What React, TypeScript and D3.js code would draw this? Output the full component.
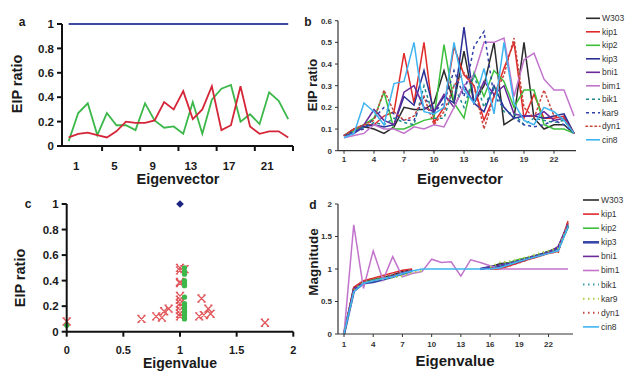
import * as d3 from "d3";

const FONT = "'Liberation Sans', Arial, sans-serif";

// shared category axis (eigenvector / eigenvalue index)
const eigIndex = [1, 2, 3, 4, 5, 6, 7, 8, 9, 10, 11, 12, 13, 14, 15, 16, 17, 18, 19, 20, 21, 22, 23, 24];

// ---- panel a ----
const aBlue = [1, 1, 1, 1, 1, 1, 1, 1, 1, 1, 1, 1, 1, 1, 1, 1, 1, 1, 1, 1, 1, 1, 1, 1];
const aGreen = [0.04, 0.27, 0.35, 0.09, 0.27, 0.17, 0.17, 0.13, 0.35, 0.21, 0.15, 0.16, 0.1, 0.36, 0.1, 0.38, 0.47, 0.5, 0.2, 0.26, 0.18, 0.44, 0.37, 0.22];
const aRed = [0.07, 0.1, 0.11, 0.09, 0.07, 0.12, 0.2, 0.19, 0.19, 0.21, 0.36, 0.3, 0.45, 0.22, 0.3, 0.49, 0.13, 0.17, 0.49, 0.16, 0.1, 0.12, 0.12, 0.07];
const aLabelTicks = [1, 5, 9, 13, 17, 21];
const aMarkTicks = [4.5, 8.5, 12.5, 16.5, 20.5, 24.5];
const ratioTicks = [0, 0.2, 0.4, 0.6, 0.8, 1];

// ---- panel b ----
const bW303 = [0.07, 0.1, 0.11, 0.1, 0.08, 0.11, 0.2, 0.19, 0.19, 0.22, 0.37, 0.22, 0.46, 0.22, 0.3, 0.5, 0.12, 0.15, 0.5, 0.15, 0.1, 0.12, 0.12, 0.08];
const bKip1 = [0.07, 0.1, 0.12, 0.12, 0.16, 0.18, 0.45, 0.22, 0.5, 0.13, 0.2, 0.48, 0.35, 0.3, 0.14, 0.25, 0.38, 0.5, 0.15, 0.26, 0.15, 0.15, 0.16, 0.08];
const bKip2 = [0.07, 0.09, 0.12, 0.15, 0.27, 0.1, 0.1, 0.12, 0.14, 0.15, 0.49, 0.22, 0.15, 0.36, 0.25, 0.37, 0.32, 0.2, 0.28, 0.28, 0.12, 0.1, 0.1, 0.08];
const bKip3 = [0.07, 0.08, 0.11, 0.12, 0.11, 0.12, 0.25, 0.21, 0.37, 0.18, 0.25, 0.22, 0.57, 0.22, 0.18, 0.3, 0.2, 0.15, 0.16, 0.16, 0.15, 0.16, 0.17, 0.08];
const bBni1 = [0.07, 0.08, 0.12, 0.19, 0.14, 0.12, 0.27, 0.3, 0.2, 0.18, 0.26, 0.2, 0.3, 0.22, 0.32, 0.26, 0.3, 0.17, 0.16, 0.16, 0.18, 0.14, 0.15, 0.08];
const bBim1 = [0.06, 0.07, 0.08, 0.12, 0.1, 0.1, 0.08, 0.11, 0.1, 0.12, 0.11, 0.2, 0.3, 0.35, 0.5, 0.5, 0.52, 0.25, 0.42, 0.45, 0.33, 0.28, 0.28, 0.16];
const bBik1 = [0.07, 0.09, 0.11, 0.13, 0.12, 0.15, 0.13, 0.12, 0.3, 0.15, 0.15, 0.3, 0.2, 0.35, 0.2, 0.3, 0.18, 0.17, 0.12, 0.15, 0.14, 0.13, 0.14, 0.08];
const bKar9 = [0.07, 0.09, 0.1, 0.15, 0.2, 0.17, 0.14, 0.14, 0.25, 0.18, 0.22, 0.37, 0.25, 0.48, 0.55, 0.25, 0.2, 0.15, 0.12, 0.11, 0.12, 0.14, 0.12, 0.08];
const bDyn1 = [0.07, 0.1, 0.12, 0.14, 0.28, 0.18, 0.14, 0.16, 0.25, 0.12, 0.18, 0.3, 0.36, 0.3, 0.1, 0.25, 0.35, 0.52, 0.2, 0.15, 0.28, 0.16, 0.15, 0.08];
const bCin8 = [0.06, 0.08, 0.22, 0.18, 0.12, 0.31, 0.32, 0.5, 0.18, 0.17, 0.2, 0.5, 0.28, 0.22, 0.38, 0.17, 0.5, 0.22, 0.14, 0.12, 0.2, 0.18, 0.14, 0.08];
const bTicksY = [0, 0.1, 0.2, 0.3, 0.4, 0.5, 0.6];
const indexTicks = [1, 4, 7, 10, 13, 16, 19, 22];

// ---- panel c ----
const cRedEigen = [0, 0.66, 0.79, 0.84, 0.86, 0.9, 1, 1, 1, 1, 1, 1, 1, 1, 1, 1, 1, 1.04, 1.17, 1.19, 1.21, 1.25, 1.27, 1.75];
const cRedRatio = [0.08, 0.1, 0.12, 0.11, 0.16, 0.18, 0.5, 0.48, 0.39, 0.38, 0.28, 0.25, 0.22, 0.2, 0.17, 0.14, 0.12, 0.49, 0.12, 0.26, 0.13, 0.18, 0.14, 0.07];
const cGreenEigen = [0, 1.04, 1.04, 1.04, 1.04, 1.04, 1.04, 1.04, 1.04, 1.04, 1.04, 1.04, 1.04, 1.04, 1.04, 1.04];
const cGreenRatio = [0.05, 0.5, 0.47, 0.45, 0.4, 0.38, 0.36, 0.27, 0.22, 0.2, 0.18, 0.16, 0.15, 0.13, 0.11, 0.1];
const cBlueEigen = [1];
const cBlueRatio = [1];
const cTicksX = [0, 0.5, 1, 1.5, 2];

// ---- panel d ----
const dW303 = [0, 0.7, 0.8, 0.84, 0.87, 0.91, 0.96, 0.99, null, null, null, null, null, null, 1.0, 1.03, 1.08, 1.1, 1.14, 1.18, 1.22, 1.27, 1.33, 1.68];
const dKip1 = [0, 0.72, 0.82, 0.86, 0.9, 0.94, 0.98, 1.0, null, null, null, null, null, null, null, 1.0, 1.0, 1.05, 1.1, 1.15, 1.19, 1.24, 1.27, 1.74];
const dKip2 = [0, 0.68, 0.79, 0.83, 0.86, 0.88, 0.92, 0.97, null, null, null, null, null, null, null, 1.02, 1.06, 1.1, 1.15, 1.18, 1.22, 1.27, 1.31, 1.64];
const dKip3 = [0, 0.66, 0.78, 0.8, 0.84, 0.88, 0.93, 0.97, null, null, null, null, null, null, 1.0, 1.03, 1.04, 1.08, 1.12, 1.17, 1.21, 1.26, 1.32, 1.66];
const dBni1 = [0, 0.7, 0.79, 0.82, 0.85, 0.89, 0.94, 0.98, null, null, null, null, null, null, 1.0, 1.02, 1.06, 1.09, 1.13, 1.17, 1.21, 1.25, 1.35, 1.7];
const dBim1 = [0, 1.68, 0.7, 1.28, 0.83, 1.19, 0.88, 0.93, 0.96, 1.15, 1.1, 1.11, 0.89, 1.14, 1.1, 1.05, 1.0, 1.0, 1.0, 1.0, 1.0, 1.0, 1.0, 1.0];
const dBik1 = [0, 0.7, 0.8, 0.83, 0.86, 0.9, 0.95, 0.99, null, null, null, null, null, null, null, 1.01, 1.05, 1.09, 1.13, 1.17, 1.21, 1.26, 1.3, 1.67];
const dKar9 = [0, 0.67, 0.79, 0.82, 0.85, 0.87, 0.89, 0.95, 0.97, null, null, null, null, null, null, 1.03, 1.1, 1.12, 1.15, 1.19, 1.24, 1.28, 1.32, 1.66];
const dDyn1 = [0, 0.71, 0.81, 0.85, 0.88, 0.91, 0.96, 1.0, null, null, null, null, null, null, null, 1.0, 1.02, 1.05, 1.1, 1.15, 1.2, 1.25, 1.26, 1.72];
const dCin8 = [0, 0.65, 0.78, 0.82, 0.85, 0.88, 0.93, 0.97, 1.0, 1.0, 1.0, 1.0, 1.0, 1.0, 1.0, 1.0, 1.02, 1.07, 1.12, 1.16, 1.2, 1.24, 1.28, 1.65];
const dTicksY = [0, 0.5, 1, 1.5, 2];

type Series = { name: string; values: (number | null)[]; color: string; dash?: string; width?: number; cap?: string };

const bSeries: Series[] = [
  { name: "W303", values: bW303, color: "#2b2b2b" },
  { name: "kip1", values: bKip1, color: "#e02a2a" },
  { name: "kip2", values: bKip2, color: "#3cbf3c" },
  { name: "kip3", values: bKip3, color: "#2a2f96" },
  { name: "bni1", values: bBni1, color: "#6a2a9c" },
  { name: "bim1", values: bBim1, color: "#c274cc" },
  { name: "bik1", values: bBik1, color: "#1b8a8f", dash: "3,3" },
  { name: "kar9", values: bKar9, color: "#3040a8", dash: "3,3" },
  { name: "dyn1", values: bDyn1, color: "#c8443c", dash: "1.5,3", cap: "round" },
  { name: "cin8", values: bCin8, color: "#3fb4f0" },
];

const dSeries: Series[] = [
  { name: "W303", values: dW303, color: "#2b2b2b" },
  { name: "kip1", values: dKip1, color: "#e02a2a" },
  { name: "kip2", values: dKip2, color: "#3cbf3c" },
  { name: "kip3", values: dKip3, color: "#3a48a8", width: 2.6 },
  { name: "bni1", values: dBni1, color: "#6a2a9c" },
  { name: "bim1", values: dBim1, color: "#c274cc" },
  { name: "bik1", values: dBik1, color: "#3aa0b0", dash: "1.5,3.5", width: 2 },
  { name: "kar9", values: dKar9, color: "#a8d040", dash: "1.5,3.5", width: 2 },
  { name: "dyn1", values: dDyn1, color: "#c8443c", dash: "1.5,3.5", width: 2 },
  { name: "cin8", values: dCin8, color: "#3fb4f0" },
];

const fmt = (v: number) => (v === 0 ? "0" : String(v));

const App = () => {
  // panel a
  const ax = d3.scaleLinear().domain([0.3, 24.5]).range([62, 293]);
  const ay = d3.scaleLinear().domain([0, 1]).range([146, 24]);
  const aLine = d3
    .line<number>()
    .x((_, i) => ax(eigIndex[i]))
    .y((v) => ay(v));

  // panel b
  const bx = d3.scaleLinear().domain([1, 24]).range([344, 574]);
  const by = d3.scaleLinear().domain([0, 0.6]).range([150.7, 20.7]);
  const bLine = d3
    .line<number | null>()
    .defined((v) => v != null)
    .x((_, i) => bx(eigIndex[i]))
    .y((v) => by(v as number));

  // panel c
  const cx = d3.scaleLinear().domain([0, 2]).range([66.7, 293.3]);
  const cy = d3.scaleLinear().domain([0, 1]).range([331.7, 204]);

  // panel d
  const dx = d3.scaleLinear().domain([1, 24]).range([344, 568]);
  const dy = d3.scaleLinear().domain([0, 2]).range([334, 204]);
  const dLine = d3
    .line<number | null>()
    .defined((v) => v != null)
    .x((_, i) => dx(eigIndex[i]))
    .y((v) => dy(v as number));

  const boldBig = { fontFamily: FONT, fontWeight: 700, fontSize: 14.5, fill: "#1a1a1a" } as const;
  const boldTick = { fontFamily: FONT, fontWeight: 700, fontSize: 11.5, fill: "#1a1a1a" } as const;
  const smallTick = { fontFamily: FONT, fontWeight: 700, fontSize: 8, fill: "#333" } as const;
  const legendText = { fontFamily: FONT, fontSize: 8.5, fill: "#333" } as const;

  // x marker with short serifs, as in the scanned figure
  const xMark = "M-3.5,-3.5L3.5,3.5M3.5,-3.5L-3.5,3.5M-4.2,-3.5H-2M2,-3.5H4.2M-4.2,3.5H-2M2,3.5H4.2";
  const diamond = "M0,-3.8L3.8,0L0,3.8L-3.8,0Z";

  return (
    <svg width={629} height={371} style={{ position: "absolute", left: 0, top: 0, background: "#fff" }}>
      {/* ================= panel a ================= */}
      <text x={22} y={26} textAnchor="middle" {...boldTick} fontSize={12}>a</text>
      <path d={aLine(aBlue) ?? ""} fill="none" stroke="#3b4a9e" strokeWidth={2.2} />
      <path d={aLine(aGreen) ?? ""} fill="none" stroke="#3cb84a" strokeWidth={1.8} />
      <path d={aLine(aRed) ?? ""} fill="none" stroke="#d42638" strokeWidth={1.8} />
      <line x1={62} x2={62} y1={ay(1)} y2={ay(0)} stroke="#111" strokeWidth={2} />
      <line x1={62} x2={293} y1={ay(0)} y2={ay(0)} stroke="#111" strokeWidth={2} />
      {ratioTicks.map((t) => (
        <g key={t}>
          <line x1={57} x2={62} y1={ay(t)} y2={ay(t)} stroke="#111" strokeWidth={2} />
          <text x={54} y={ay(t)} dy="0.36em" textAnchor="end" {...boldTick}>{fmt(t)}</text>
        </g>
      ))}
      {aMarkTicks.map((t) => (
        <line key={t} x1={ax(t)} x2={ax(t)} y1={ay(0)} y2={ay(0) + 5} stroke="#111" strokeWidth={2} />
      ))}
      {aLabelTicks.map((t) => (
        <text key={t} x={ax(t + 0.8)} y={170} textAnchor="middle" {...boldTick}>{t}</text>
      ))}
      <text x={178} y={184} textAnchor="middle" {...boldBig}>Eigenvector</text>
      <text transform="translate(22,84) rotate(-90)" textAnchor="middle" {...boldBig}>EIP ratio</text>

      {/* ================= panel b ================= */}
      <text x={308} y={26} textAnchor="middle" {...boldTick} fontSize={12}>b</text>
      {bSeries.map((s) => (
        <path
          key={s.name}
          d={bLine(s.values) ?? ""}
          fill="none"
          stroke={s.color}
          strokeWidth={s.width ?? 1.5}
          strokeDasharray={s.dash}
          strokeLinecap={(s.cap as any) ?? "butt"}
        />
      ))}
      <line x1={338} x2={338} y1={by(0.6)} y2={by(0)} stroke="#333" strokeWidth={1.2} />
      <line x1={338} x2={576} y1={by(0)} y2={by(0)} stroke="#333" strokeWidth={1.2} />
      {bTicksY.map((t) => (
        <g key={t}>
          <line x1={335} x2={338} y1={by(t)} y2={by(t)} stroke="#333" />
          <text x={332} y={by(t)} dy="0.35em" textAnchor="end" {...smallTick}>{fmt(t)}</text>
        </g>
      ))}
      {indexTicks.map((t) => (
        <g key={t}>
          <line x1={bx(t)} x2={bx(t)} y1={by(0)} y2={by(0) + 3} stroke="#333" />
          <text x={bx(t)} y={162} textAnchor="middle" {...smallTick}>{t}</text>
        </g>
      ))}
      <text x={460} y={184} textAnchor="middle" {...boldBig} fontSize={15}>Eigenvector</text>
      <text transform="translate(317,85) rotate(-90)" textAnchor="middle" {...boldBig} fontSize={13}>EIP ratio</text>
      {bSeries.map((s, i) => (
        <g key={s.name} transform={`translate(0,${18.3 + 13.5 * i})`}>
          <line x1={586} x2={600} y1={0} y2={0} stroke={s.color} strokeWidth={1.6} strokeDasharray={s.dash} strokeLinecap={(s.cap as any) ?? "butt"} />
          <text x={602} y={0} dy="0.35em" {...legendText}>{s.name}</text>
        </g>
      ))}

      {/* ================= panel c ================= */}
      <text x={28} y={208} textAnchor="middle" {...boldTick} fontSize={12}>c</text>
      {cRedEigen.map((e, i) => (
        <path key={`r${i}`} d={xMark} transform={`translate(${cx(e)},${cy(cRedRatio[i])})`} fill="none" stroke="#e0585c" strokeWidth={1.3} />
      ))}
      {cGreenEigen.map((e, i) => (
        <circle key={`g${i}`} cx={cx(e)} cy={cy(cGreenRatio[i])} r={2.6} fill="#3cb84a" />
      ))}
      {cBlueEigen.map((e, i) => (
        <path key={`b${i}`} d={diamond} transform={`translate(${cx(e)},${cy(cBlueRatio[i])})`} fill="#1c2280" />
      ))}
      <line x1={cx(0)} x2={cx(0)} y1={cy(1)} y2={cy(0)} stroke="#111" strokeWidth={2} />
      <line x1={cx(0)} x2={cx(2)} y1={cy(0)} y2={cy(0)} stroke="#111" strokeWidth={2} />
      {ratioTicks.map((t) => (
        <g key={t}>
          <line x1={cx(0) - 5} x2={cx(0)} y1={cy(t)} y2={cy(t)} stroke="#111" strokeWidth={2} />
          <text x={cx(0) - 8} y={cy(t)} dy="0.36em" textAnchor="end" {...boldTick}>{fmt(t)}</text>
        </g>
      ))}
      {cTicksX.map((t) => (
        <g key={t}>
          <line x1={cx(t)} x2={cx(t)} y1={cy(0)} y2={cy(0) + 5} stroke="#111" strokeWidth={2} />
          <text x={cx(t)} y={354} textAnchor="middle" {...boldTick} fontSize={11}>{fmt(t)}</text>
        </g>
      ))}
      <text x={180} y={368} textAnchor="middle" {...boldBig} fontSize={14}>Eigenvalue</text>
      <text transform="translate(25,278) rotate(-90)" textAnchor="middle" {...boldBig}>EIP ratio</text>

      {/* ================= panel d ================= */}
      <text x={313} y={209} textAnchor="middle" {...boldTick} fontSize={12}>d</text>
      {dSeries.map((s) => (
        <path
          key={s.name}
          d={dLine(s.values) ?? ""}
          fill="none"
          stroke={s.color}
          strokeWidth={s.width ?? 1.5}
          strokeDasharray={s.dash}
        />
      ))}
      <line x1={338} x2={338} y1={dy(2)} y2={dy(0)} stroke="#333" strokeWidth={1.2} />
      <line x1={338} x2={573} y1={dy(0)} y2={dy(0)} stroke="#333" strokeWidth={1.2} />
      {dTicksY.map((t) => (
        <g key={t}>
          <line x1={335} x2={338} y1={dy(t)} y2={dy(t)} stroke="#333" />
          <text x={332} y={dy(t)} dy="0.35em" textAnchor="end" {...smallTick}>{fmt(t)}</text>
        </g>
      ))}
      {indexTicks.map((t) => (
        <g key={t}>
          <line x1={dx(t)} x2={dx(t)} y1={dy(0)} y2={dy(0) + 3} stroke="#333" />
          <text x={dx(t)} y={347} textAnchor="middle" {...smallTick}>{t}</text>
        </g>
      ))}
      <text x={455} y={366} textAnchor="middle" {...boldBig} fontSize={15}>Eigenvalue</text>
      <text transform="translate(318,262) rotate(-90)" textAnchor="middle" {...boldBig} fontSize={13.5}>Magnitude</text>
      {dSeries.map((s, i) => (
        <g key={s.name} transform={`translate(0,${200 + 14.1 * i})`}>
          <line x1={583} x2={599} y1={0} y2={0} stroke={s.color} strokeWidth={s.width ?? 1.6} strokeDasharray={s.dash} />
          <text x={601} y={0} dy="0.35em" {...legendText}>{s.name}</text>
        </g>
      ))}
    </svg>
  );
};

export default App;
